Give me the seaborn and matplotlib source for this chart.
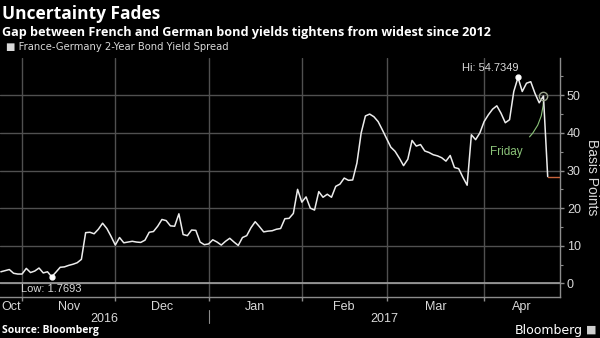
import numpy as np
import pandas as pd
import matplotlib
matplotlib.use("Agg")
import matplotlib.pyplot as plt
import seaborn as sns

# France-Germany 2-year bond yield spread, basis points, one value per business day
start_date = "2016-10-25"
end_date = "2017-04-24"
spread_bp = [
    3.1, 3.4, 3.7, 2.7, 2.5,
    2.5, 4.0, 2.9, 3.3, 4.1, 2.8, 3.1, 1.7693, 3.0, 4.3,
    4.4, 4.8, 5.1, 5.5, 6.4, 13.5, 13.6, 13.2, 14.4, 16.0,
    14.6, 12.5, 10.2, 12.2, 10.8, 11.0, 11.2, 11.0, 10.9, 11.5,
    13.6, 13.8, 15.2, 17.0, 16.7, 15.3, 15.2, 18.5, 13.0, 12.7,
    14.2, 14.1, 11.0, 10.3, 10.5, 11.6, 11.0, 10.2, 11.2, 12.0,
    11.0, 10.1, 12.2, 12.7, 14.8, 16.4, 15.1, 13.7, 13.9, 14.0,
    14.4, 14.6, 17.2, 17.3, 18.6, 25.0, 21.6, 23.0, 20.0, 19.5,
    24.4, 22.9, 23.7, 22.9, 25.8, 26.4, 28.0, 27.4, 27.5, 32.0,
    40.0, 44.5, 45.0, 44.3, 43.0, 40.8, 38.5, 36.2, 35.1, 33.3,
    31.3, 33.0, 38.0, 36.5, 36.9, 35.2, 34.8, 34.2, 33.9, 33.4,
    32.5, 34.0, 30.8, 30.5, 28.2, 26.1, 39.5, 38.2, 40.0, 43.0,
    44.8, 46.3, 47.2, 45.2, 42.7, 43.5, 51.0, 54.7349, 51.0, 53.2,
    53.6, 50.5, 48.0, 49.8, 28.4,
]
month_labels = ["Oct", "Nov", "Dec", "Jan", "Feb", "Mar", "Apr"]
year_labels = ["2016", "2017"]
y_ticks = [0, 10, 20, 30, 40, 50]

title = "Uncertainty Fades"
subtitle = "Gap between French and German bond yields tightens from widest since 2012"
series_name = "France-Germany 2-Year Bond Yield Spread"
friday_label = "Friday"

dates = pd.bdate_range(start_date, end_date)
df = pd.DataFrame({"date": dates, "spread": spread_bp})
df["pos"] = np.arange(len(df))

BG = "#000000"
GRID = "#505050"
TXT = "#d9d9d9"
AXC = "#8c8c8c"
GREEN = "#8cc47a"
narrow = ["Liberation Sans Narrow", "Liberation Sans", "DejaVu Sans"]

sns.set_style("darkgrid", {"axes.facecolor": BG, "figure.facecolor": BG,
                           "grid.color": GRID, "axes.edgecolor": AXC})
plt.rcParams["font.family"] = ["Open Sans", "DejaVu Sans"]

fig = plt.figure(figsize=(6.0, 3.38), dpi=100, facecolor=BG)
ax = fig.add_axes([0.0, 0.1213, 0.9333, 0.7071])
ax.set_facecolor(BG)

sns.lineplot(data=df, x="pos", y="spread", ax=ax, color="#ececec",
             linewidth=1.1, zorder=4, legend=False)

# month boundaries at the first business day of each month
month_key = df["date"].dt.to_period("M")
first_pos = df.groupby(month_key)["pos"].min().tolist()
bounds = first_pos[1:]
nov = bounds[0]

n = len(df)
x_left, x_right = -0.2, n - 1 + 2.9
ax.set_xlim(x_left, x_right)
ax.set_ylim(-3.6, 59.9)

ax.set_axisbelow(True)
ax.grid(True, which="major", color=GRID, linewidth=1.0, linestyle="-")
ax.grid(False, which="minor")
ax.axhline(0, color="#a0a0a0", lw=1.2, zorder=2)

# last value line
last_pos, last_val = df["pos"].iloc[-1], df["spread"].iloc[-1]
ax.plot([last_pos, x_right], [last_val, last_val], color="#c8643c", lw=1.0, zorder=3)

# low / high markers
lo = df.loc[df["spread"].idxmin()]
hi = df.loc[df["spread"].idxmax()]
ax.plot(lo["pos"], lo["spread"], "o", color="white", ms=3.5, zorder=5)
ax.plot(hi["pos"], hi["spread"], "o", color="white", ms=3.5, zorder=5)
ax.annotate(f"Low: {lo['spread']:.4f}", (lo["pos"], lo["spread"]), xytext=(0, -5),
            textcoords="offset points", ha="center", va="top", color=TXT, fontsize=8,
            family=narrow, zorder=6)
ax.annotate(f"Hi: {hi['spread']:.4f}", (hi["pos"], hi["spread"]), xytext=(0, 3),
            textcoords="offset points", ha="right", va="bottom", color=TXT, fontsize=8,
            family=narrow, zorder=6)

# Friday callout
fri = df.iloc[-2]
ax.plot(fri["pos"], fri["spread"], "o", mfc="none", mec="#9aa38c", mew=1.0, ms=6, zorder=5)
ax.annotate(friday_label, xy=(fri["pos"], fri["spread"]), xytext=(nov + 114.3, 35.0),
            ha="center", va="center", color=GREEN, fontsize=8.5, family=narrow,
            arrowprops=dict(arrowstyle="-", color=GREEN, lw=0.8,
                            connectionstyle="arc3,rad=0.35",
                            shrinkA=6, shrinkB=3))

# spines
for s in ["top", "left"]:
    ax.spines[s].set_visible(False)
for s in ["bottom", "right"]:
    ax.spines[s].set_visible(True)
    ax.spines[s].set_color(AXC)
    ax.spines[s].set_linewidth(1.0)

# y axis on the right
ax.yaxis.tick_right()
ax.yaxis.set_label_position("right")
ax.set_yticks(y_ticks)
ax.set_yticklabels([str(v) for v in y_ticks], family=narrow)
ax.set_yticks([5, 15, 25, 35, 45, 55], minor=True)
ax.tick_params(axis="y", which="major", direction="out", length=3, width=1,
               color=AXC, labelcolor=TXT, labelsize=9, pad=2, right=True, left=False)
ax.tick_params(axis="y", which="minor", direction="out", length=2, width=0.8,
               color=AXC, right=True, left=False)
ax.set_ylabel("Basis Points", color=TXT, fontsize=10, rotation=270, labelpad=13,
              family=narrow)

# x axis: boundary ticks, month names centered in each month
ax.set_xticks(bounds)
ax.set_xticklabels([""] * len(bounds))
ax.tick_params(axis="x", which="major", direction="out", length=3, width=1, color=AXC,
               bottom=True)
spans = [x_left] + bounds + [x_right]
centers = [(spans[i] + spans[i + 1]) / 2 for i in range(len(spans) - 1)]
ax.set_xticks(centers, minor=True)
ax.set_xticklabels(month_labels, minor=True, family=narrow)
ax.tick_params(axis="x", which="minor", length=0, labelcolor=TXT, labelsize=9, pad=3)
ax.set_xlabel("")

# year labels with separator at the new year
year_break = first_pos[month_labels.index("Jan")]
for lbl, (a, b) in zip(year_labels, [(x_left, year_break), (year_break, x_right)]):
    ax.text((a + b) / 2, -0.09, lbl, transform=ax.get_xaxis_transform(),
            ha="center", va="center", color=TXT, fontsize=9, family=narrow)
ax.plot([year_break, year_break], [-0.055, -0.11], transform=ax.get_xaxis_transform(),
        color=AXC, lw=0.8, clip_on=False)

# headings
fig.text(0.004, 0.958, title, color="white", fontsize=12.5, fontweight="bold",
         ha="left", va="center")
fig.text(0.004, 0.905, subtitle, color="white", fontsize=9.1, fontweight="bold",
         ha="left", va="center")
fig.text(0.01, 0.86, "\u25a0 " + series_name, color=TXT, fontsize=7.2, ha="left",
         va="center", family=["Liberation Sans Narrow", "DejaVu Sans"])
fig.text(0.004, 0.022, "Source: Bloomberg", color="white", fontsize=7.5,
         fontweight="bold", ha="left", va="center")
fig.text(0.972, 0.022, "Bloomberg", color="white", fontsize=9, ha="right",
         va="center", family=["Liberation Sans Narrow", "DejaVu Sans"])
fig.text(0.985, 0.024, "\u25a0", color="#cfcfcf", fontsize=8, ha="center", va="center",
         family=["DejaVu Sans"])

fig.savefig("out.png", dpi=100, facecolor=BG)
